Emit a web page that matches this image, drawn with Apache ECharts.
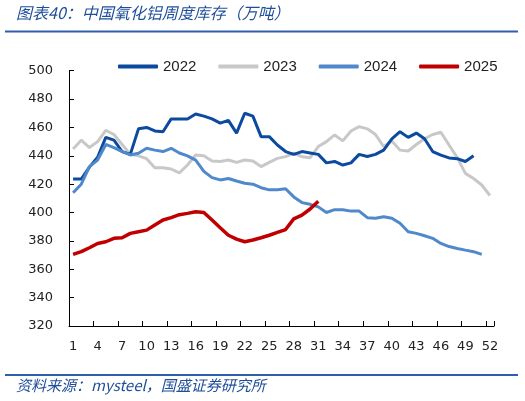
<!DOCTYPE html>
<html>
<head>
<meta charset="utf-8">
<script src="https://cdn.jsdelivr.net/npm/echarts@6/dist/echarts.min.js"></script>
<style>
html,body{margin:0;padding:0;background:#fff;}
#main{width:525px;height:401px;}
</style>
</head>
<body>
<div id="main"></div>
<script>
const weeks = Array.from({length: 52}, (_, i) => String(i + 1));
const seriesNames = ['2022', '2023', '2024', '2025'];
const data2022 = [423.6,423.6,432,439,453,451,443,441,459,460,457.5,457,466,466,466,469.5,468,466,463,465,456,470,468,453.5,453.5,447.6,443,441,443,442,441,435,436,433.5,435,441,439.5,441,444,452,457,453,456,452,443,440.5,438.5,438,436,440];
const data2023 = [444.8,451,445.8,450,458,455,448,441,440,438,431.6,431.6,430.7,428,433.5,440.6,440,436.4,436,437,435.4,437,436.4,432.4,435.4,438.2,439.4,441.8,439.4,438.7,446.5,450,454.7,450.5,457.5,460.6,459,455,446.5,450.5,444,443.4,448,452,455,456.6,447.6,438.7,427.6,424,419.4,412];
const data2024 = [414,420,432.4,437,448,445.8,443,440.6,441.8,445.3,444,443,445.3,442,440,437,429,424.6,423,424,422.2,420.6,420,417.5,416,416,416.8,411,407,405.8,404,400,402,402,401,401,396.4,396,397,396,392.4,386.5,385.3,383.6,381.8,378.2,376,374.7,373.5,372.4,370.5];
const data2025 = [370.5,372.4,375.2,378.2,379.4,381.8,382.2,385.3,386.5,387.6,391.2,394.7,396.4,398.5,399.4,400.6,400,394.7,389.3,384,381.3,379.4,380.6,382.2,384,386,388,395.5,398.2,402.5,408];
const yTicks = {min: 320, max: 500, interval: 20};

const colors = ['#0B4A9E', '#C8C8C8', '#5089CB', '#C00000'];
const widths = [3, 3, 3, 3.5];
const allData = [data2022, data2023, data2024, data2025];

const chart = echarts.init(document.getElementById('main'));
chart.setOption({
  animation: false,
  backgroundColor: '#fff',
  color: colors,
  grid: {left: 69, right: 31, top: 70.7, bottom: 75, containLabel: false},
  legend: {
    left: 113, top: 54,
    icon: 'roundRect',
    itemWidth: 40, itemHeight: 4,
    itemGap: 22,
    textStyle: {fontFamily: 'Liberation Sans', fontSize: 15, color: '#222'},
    data: seriesNames
  },
  xAxis: {
    type: 'category',
    data: weeks,
    boundaryGap: true,
    axisLine: {lineStyle: {color: '#000', width: 1}},
    axisTick: {show: true, inside: true, interval: 2, length: 5, lineStyle: {color: '#000'}},
    axisLabel: {interval: 2, margin: 14, fontFamily: 'DejaVu Sans', fontSize: 13, color: '#222'},
    splitLine: {show: false}
  },
  yAxis: {
    type: 'value',
    min: yTicks.min, max: yTicks.max, interval: yTicks.interval,
    axisLine: {show: true, lineStyle: {color: '#000', width: 1}},
    axisTick: {show: true, inside: true, length: 5, lineStyle: {color: '#000'}},
    axisLabel: {margin: 16, fontFamily: 'DejaVu Sans', fontSize: 13, color: '#222'},
    splitLine: {show: false}
  },
  series: seriesNames.map((n, i) => ({
    name: n,
    type: 'line',
    data: allData[i],
    showSymbol: false,
    symbol: 'none',
    lineStyle: {width: widths[i], color: colors[i]},
    z: i === 3 ? 5 : (i === 1 ? 2 : 3)
  })),
  graphic: [
    {type: 'text', left: 16, top: 5, style: {text: '图表40：中国氧化铝周度库存（万吨）', fontFamily: 'Noto Sans CJK SC', fontStyle: 'italic', fontSize: 16, fill: '#1F4E99'}},
    {type: 'rect', shape: {x: 5, y: 30.5, width: 513, height: 2}, style: {fill: '#2F5FAA'}},
    {type: 'rect', shape: {x: 5, y: 374, width: 513, height: 2}, style: {fill: '#2F5FAA'}},
    {type: 'text', left: 16, top: 378, style: {text: '资料来源：mysteel，国盛证券研究所', fontFamily: 'Noto Sans CJK SC', fontStyle: 'italic', fontSize: 15, fill: '#1F4E99'}}
  ]
});
</script>
</body>
</html>
